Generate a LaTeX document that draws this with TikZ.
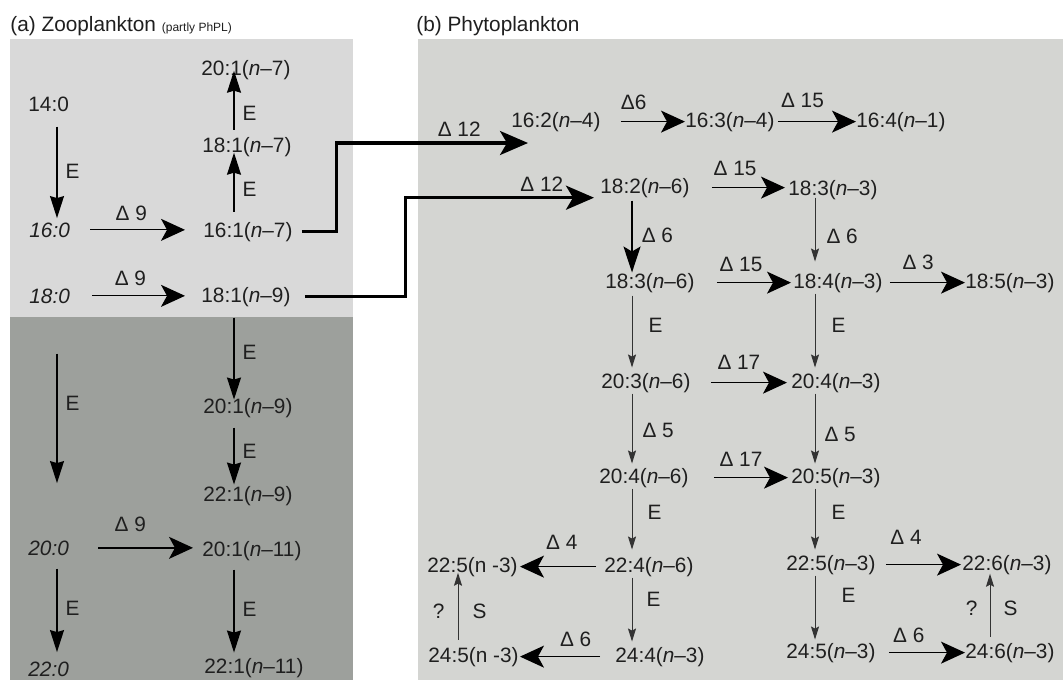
\documentclass[tikz,border=0pt]{standalone}
\usepackage{fontspec}
\setmainfont{Liberation Sans}
\usetikzlibrary{arrows.meta}

\definecolor{zooL}{HTML}{D9D9D9}
\definecolor{zooD}{HTML}{9DA09C}
\definecolor{phyto}{HTML}{D4D5D2}
\newcommand{\itn}{\textit{n}}

\tikzset{
  fa/.style={anchor=base west, inner sep=0pt, text=black!88},
  lab/.style={inner sep=0pt, text=black!88},
  earr/.style={line width=0.65pt, -{Stealth[length=11pt, width=7pt, inset=1pt]}, shorten <=5pt, shorten >=1pt},
  darr/.style={line width=0.65pt, -{Stealth[length=12pt, width=11pt, inset=3pt]}},
  thinarr/.style={draw=black!80, line width=0.5pt, -{Stealth[length=6.5pt, width=4pt, inset=1pt]}, shorten <=0.5pt, shorten >=2pt},
  link/.style={line width=1.6pt, -{Stealth[length=14pt, width=12pt, inset=3.5pt]}},
}

\begin{document}
\begin{tikzpicture}[x=0.5pt, y=-0.5pt, font=\fontsize{10.4}{12.5}\selectfont]
\useasboundingbox (0,0) rectangle (1063,680);

% panels
\fill[zooL] (10,39) rectangle (353,317);
\fill[zooD] (10,317) rectangle (353,680);
\fill[phyto] (418,39) rectangle (1063,680);
\node[fa] (ta) at (10,31) {(a) Zooplankton {\fontsize{6}{7}\selectfont (partly PhPL)}};
\node[fa] (tb) at (416,31) {(b) Phytoplankton};

% columns of the vertical arrows
\coordinate (ca1) at (57,0);
\coordinate (ca2) at (234,0);
\coordinate (cb0) at (458,0);
\coordinate (cb1) at (632,0);
\coordinate (cb2) at (815,0);
\coordinate (cb3) at (990,0);

% (a) zooplankton
\node[fa] (n140) at (28,111) {14:0};
\node[fa] (n160) at (29,237) {\textit{16:0}};
\node[fa] (n180) at (29,303) {\textit{18:0}};
\node[fa] (n200) at (28,555) {\textit{20:0}};
\node[fa] (n220) at (28,676) {\textit{22:0}};
\node[fa] (n201a) at (201,75) {20:1(\itn--7)};
\node[fa] (n181a) at (202,152) {18:1(\itn--7)};
\node[fa] (n161a) at (203,237) {16:1(\itn--7)};
\node[fa] (n181b) at (201,302) {18:1(\itn--9)};
\node[fa] (n201b) at (203,413) {20:1(\itn--9)};
\node[fa] (n221b) at (203,501) {22:1(\itn--9)};
\node[fa] (n201c) at (202,556) {20:1(\itn--11)};
\node[fa] (n221c) at (204,673) {22:1(\itn--11)};

\draw[earr, shorten <=7.5pt, shorten >=2pt] (n140.south -| ca1) -- (n160.north -| ca1) node[lab, pos=0.54, right=4pt]{E};
\draw[earr, shorten <=25pt, shorten >=28.5pt] (n180.south -| ca1) -- (n200.north -| ca1) node[lab, pos=0.42, right=4pt]{E};
\draw[earr, shorten <=6.5pt, shorten >=4.5pt] (n200.south -| ca1) -- (n220.north -| ca1) node[lab, midway, right=4pt]{E};
\draw[earr, shorten >=-2pt] (n161a.north -| ca2) -- (n181a.south -| ca2) node[lab, midway, right=4pt]{E};
\draw[earr, shorten <=3.5pt, shorten >=-4.5pt] (n181a.north -| ca2) -- (n201a.south -| ca2) node[lab, pos=0.4, right=4pt]{E};
\draw[earr, shorten <=5.5pt, shorten >=-1pt] (n181b.south -| ca2) -- (n201b.north -| ca2) node[lab, midway, right=4pt]{E};
\draw[earr, shorten >=0.5pt] (n201b.south -| ca2) -- (n221b.north -| ca2) node[lab, midway, right=4pt]{E};
\draw[earr, shorten <=4.5pt, shorten >=2.5pt] (n201c.south -| ca2) -- (n221c.north -| ca2) node[lab, midway, right=4pt]{E};

\draw[darr, shorten <=10pt, shorten >=9pt] (n160.east) -- (n160.east -| n161a.west) node[lab, pos=0.46, above=4pt]{Δ 9};
\draw[darr, shorten <=11pt, shorten >=8pt] (n180.east) -- (n180.east -| n181b.west) node[lab, pos=0.46, above=4.5pt]{Δ 9};
\draw[darr, shorten <=14.5pt, shorten >=4.5pt] (n200.east) -- (n200.east -| n201c.west) node[lab, pos=0.46, above=7.5pt]{Δ 9};

% (b) phytoplankton
\node[fa] (n162) at (511,127) {16:2(\itn--4)};
\node[fa] (n163) at (685,127) {16:3(\itn--4)};
\node[fa] (n164) at (856,127) {16:4(\itn--1)};
\node[fa] (n182) at (600,193) {18:2(\itn--6)};
\node[fa] (n183a) at (788,195) {18:3(\itn--3)};
\node[fa] (n183b) at (605,288) {18:3(\itn--6)};
\node[fa] (n184) at (793,288) {18:4(\itn--3)};
\node[fa] (n185) at (965,288) {18:5(\itn--3)};
\node[fa] (n203) at (601,388) {20:3(\itn--6)};
\node[fa] (n204a) at (791,388) {20:4(\itn--3)};
\node[fa] (n204b) at (599,483) {20:4(\itn--6)};
\node[fa] (n205) at (791,483) {20:5(\itn--3)};
\node[fa] (n224) at (604,572) {22:4(\itn--6)};
\node[fa] (n225a) at (427,572) {22:5(n -3)};
\node[fa] (n225b) at (786,570) {22:5(\itn--3)};
\node[fa] (n226) at (962,570) {22:6(\itn--3)};
\node[fa] (n244) at (615,662) {24:4(\itn--3)};
\node[fa] (n245a) at (428,662) {24:5(n -3)};
\node[fa] (n245b) at (786,658) {24:5(\itn--3)};
\node[fa] (n246) at (965,658) {24:6(\itn--3)};

% links from zooplankton
\coordinate (in162) at (528,143);
\draw[link, shorten <=4.5pt] (n161a.east) -- ++(44,0) |- node[lab, pos=0.82, above=2.5pt]{Δ 12} (in162);
\draw[link, shorten <=7pt, shorten >=3pt] (n181b.east) -- ++(115,0) |- node[lab, pos=0.85, above=2.5pt]{Δ 12} (n182.south west);

% desaturation
\draw[darr, shorten <=10pt] (n162.east) -- (n162.east -| n163.west) node[lab, pos=0.39, above=5.5pt]{Δ6};
\draw[darr, shorten <=1.5pt] (n163.east) -- (n163.east -| n164.west) node[lab, pos=0.34, above=6.5pt]{Δ 15};
\draw[darr, shorten <=11pt, shorten >=1.5pt] (n182.east) -- (n182.east -| n183a.west) node[lab, pos=0.46, above=5.5pt]{Δ 15};
\draw[darr, shorten <=11pt, shorten >=1pt] (n183b.east) -- (n183b.east -| n184.west) node[lab, pos=0.47, above=5pt]{Δ 15};
\draw[darr, shorten <=3.5pt] (n184.east) -- (n184.east -| n185.west) node[lab, pos=0.43, above=6pt]{Δ 3};
\draw[darr, shorten <=10pt, shorten >=2pt] (n203.east) -- (n203.east -| n204a.west) node[lab, pos=0.48, above=6pt]{Δ 17};
\draw[darr, shorten <=12.5pt, shorten >=1.5pt] (n204b.east) -- (n204b.east -| n205.west) node[lab, pos=0.51, above=5pt]{Δ 17};
\draw[darr, shorten <=4pt, shorten >=1pt] (n224.west) -- (n224.west -| n225a.east) node[lab, pos=0.49, above=8pt]{Δ 4};
\draw[darr, shorten <=7.5pt, shorten >=0.5pt] (n244.west) -- (n244.west -| n245a.east) node[lab, pos=0.41, above=4.5pt]{Δ 6};
\draw[darr, shorten <=5pt, shorten >=0.5pt] (n225b.east) -- (n225b.east -| n226.west) node[lab, pos=0.35, above=9.5pt]{Δ 4};
\draw[darr, shorten <=6.5pt] (n245b.east) -- (n245b.east -| n246.west) node[lab, pos=0.37, above=4.5pt]{Δ 6};

% vertical steps
\draw[line width=0.8pt, -{Stealth[length=13pt, width=8.5pt, inset=2.5pt]}, shorten <=1.5pt] (n182.south -| cb1) -- (n183b.north -| cb1) node[lab, midway, right=4.5pt]{Δ 6};
\draw[thinarr, shorten <=-1pt, shorten >=5.5pt] (n183a.south -| cb2) -- (n184.north -| cb2) node[lab, midway, right=5.5pt]{Δ 6};
\draw[thinarr, shorten <=1.5pt, shorten >=2.5pt] (n183b.south -| cb1) -- (n203.north -| cb1) node[lab, pos=0.41, right=8pt]{E};
\draw[thinarr, shorten >=2.5pt] (n184.south -| cb2) -- (n204a.north -| cb2) node[lab, pos=0.41, right=8pt]{E};
\draw[thinarr] (n203.south -| cb1) -- (n204b.north -| cb1) node[lab, midway, right=5pt]{Δ 5};
\draw[thinarr] (n204a.south -| cb2) -- (n205.north -| cb2) node[lab, pos=0.56, right=4.5pt]{Δ 5};
\draw[thinarr, shorten >=3.5pt] (n204b.south -| cb1) -- (n224.north -| cb1) node[lab, pos=0.36, right=7.5pt]{E};
\draw[thinarr, shorten >=2.5pt] (n205.south -| cb2) -- (n225b.north -| cb2) node[lab, pos=0.37, right=8pt]{E};
\draw[thinarr, shorten >=2.5pt] (n224.south -| cb1) -- (n244.north -| cb1) node[lab, pos=0.33, right=7pt]{E};
\draw[thinarr, shorten >=1.5pt] (n225b.south -| cb2) -- (n245b.north -| cb2) node[lab, pos=0.31, right=13pt]{E};

% sprecher shortening
\draw[thinarr, shorten <=3.5pt, shorten >=-2pt] (n245a.north -| cb0) -- (n225a.south -| cb0) node[lab, midway, left=6.5pt]{?} node[lab, midway, right=7pt]{S};
\draw[thinarr, shorten <=3pt, shorten >=-0.5pt] (n246.north -| cb3) -- (n226.south -| cb3) node[lab, midway, left=6pt]{?} node[lab, midway, right=6.5pt]{S};
\end{tikzpicture}
\end{document}
